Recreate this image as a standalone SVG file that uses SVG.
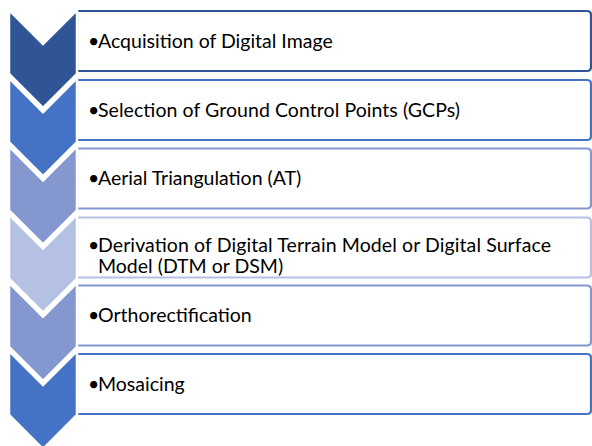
<svg xmlns="http://www.w3.org/2000/svg" width="592" height="446" viewBox="0 0 592 446">
<style>
.chev{stroke:#fff;stroke-width:2.5;stroke-linejoin:miter}
.box{fill:#fff;stroke-width:2.2}
.t{font-family:"Lato","Liberation Sans",sans-serif;font-size:19.5px;fill:#000}
</style>
<defs>
<path id="chv" d="M9,0 L43,34 L77,0 L77,64 L43,98 L9,64 Z"/>
<path id="bx" d="M77,0 H587 Q591,0 591,4 V56 Q591,60 587,60 H77 Z"/>
</defs>
<rect width="592" height="446" fill="#fff"/>
<g id="node1">
<use href="#bx" class="box" y="11" stroke="#2F5597"/>
<use href="#chv" class="chev" y="10" fill="#2F5597"/>
<text class="t" x="88" y="48">•<tspan x="98">Acquisition of Digital Image</tspan></text>
</g>
<g id="node2">
<use href="#bx" class="box" y="80" stroke="#4472C4"/>
<use href="#chv" class="chev" y="78.2" fill="#4472C4"/>
<text class="t" x="88" y="117">•<tspan x="98" textLength="362">Selection of Ground Control Points (GCPs)</tspan></text>
</g>
<g id="node3">
<use href="#bx" class="box" y="148.5" stroke="#8497CF"/>
<use href="#chv" class="chev" y="146.4" fill="#8497CF"/>
<text class="t" x="88" y="185">•<tspan x="98">Aerial Triangulation (AT)</tspan></text>
</g>
<g id="node4">
<use href="#bx" class="box" y="217.5" stroke="#B5C1E3"/>
<use href="#chv" class="chev" y="214.6" fill="#B5C1E3"/>
<text class="t" x="88" y="252">•<tspan x="98" textLength="453">Derivation of Digital Terrain Model or Digital Surface</tspan></text>
<text class="t" x="98" y="273">Model (DTM or DSM)</text>
</g>
<g id="node5">
<use href="#bx" class="box" y="285.5" stroke="#8497CF"/>
<use href="#chv" class="chev" y="282.8" fill="#8497CF"/>
<text class="t" x="88" y="322">•<tspan x="98">Orthorectification</tspan></text>
</g>
<g id="node6">
<use href="#bx" class="box" y="354" stroke="#4472C4"/>
<use href="#chv" class="chev" y="351" fill="#4472C4"/>
<text class="t" x="88" y="391">•<tspan x="98">Mosaicing</tspan></text>
</g>
<g id="connectors"/>
</svg>
